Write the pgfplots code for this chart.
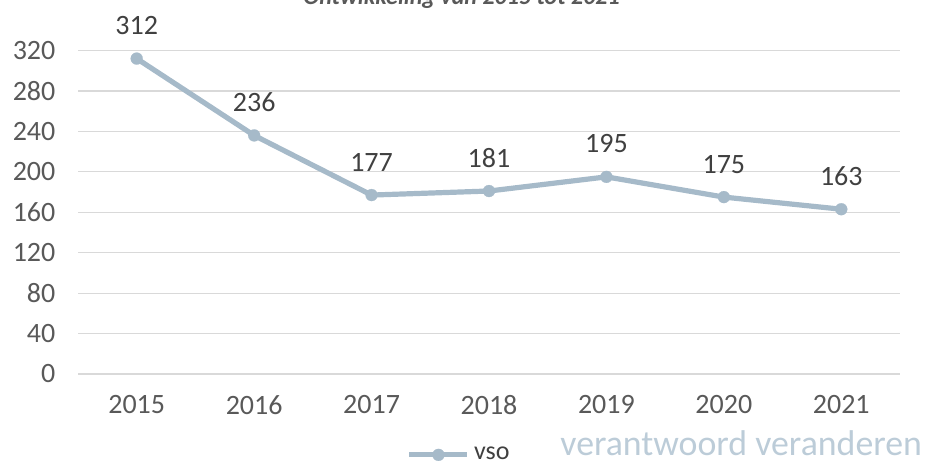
\documentclass[border=0pt]{standalone}
\usepackage{pgfplots}
\pgfplotsset{compat=1.18}
\usepackage{fontspec}
\setmainfont{Carlito}
\definecolor{lijn}{HTML}{A6BAC9}
\definecolor{raster}{HTML}{D9D9D9}
\definecolor{tekst}{HTML}{595959}
\definecolor{label}{HTML}{404040}
\definecolor{merk}{HTML}{BCCCD8}
\begin{document}
\begin{tikzpicture}
\begin{axis}[
  at={(39pt,46.5pt)}, anchor=south west,
  scale only axis, width=411pt, height=161.75pt,
  xmin=-0.5, xmax=6.5, ymin=0, ymax=320,
  xtick={0,...,6},
  xticklabels={2015,2016,2017,2018,2019,2020,2021},
  ytick={0,40,...,320},
  ymajorgrids, grid style={raster, line width=0.6pt},
  axis line style={draw=none},
  major tick length=0pt,
  tick label style={font=\fontsize{14}{16}\selectfont, text=tekst},
  xticklabel style={yshift=-7.3pt},
  yticklabel style={xshift=-7.8pt},
  /pgf/number format/assume math mode=true,
  nodes near coords,
  every node near coord/.append style={font=\fontsize{14}{16}\selectfont, text=label, anchor=base, yshift=12pt},
  legend style={at={(0.465,-0.25)}, anchor=center, draw=none, fill=none, inner sep=0pt,
    font=\fontsize{13}{15}\selectfont, text=label},
  legend image code/.code={\draw[#1, mark repeat=2, mark phase=2] plot coordinates {(0pt,0pt)(14.5pt,0pt)(29pt,0pt)};},
  clip=false,
]
\addplot[lijn, line width=2.6pt, mark=*, mark size=3pt, mark options={solid, line width=0.1pt, draw=lijn, fill=lijn}]
  coordinates {(0,312)(1,236)(2,177)(3,181)(4,195)(5,175)(6,163)};
\addlegendentry{vso}
\end{axis}
\node[anchor=base, text=tekst, font=\fontsize{12}{14}\selectfont\bfseries\itshape] at (230.75pt,231pt) {Ontwikkeling van 2015 tot 2021};
\node[anchor=base west, inner sep=0pt, text=merk, font=\fontsize{17.9}{20}\selectfont] at (280pt,6pt) {verantwoord veranderen};
\pgfresetboundingbox
\useasboundingbox (0,0) rectangle (466pt,233.5pt);
\end{tikzpicture}
\end{document}
